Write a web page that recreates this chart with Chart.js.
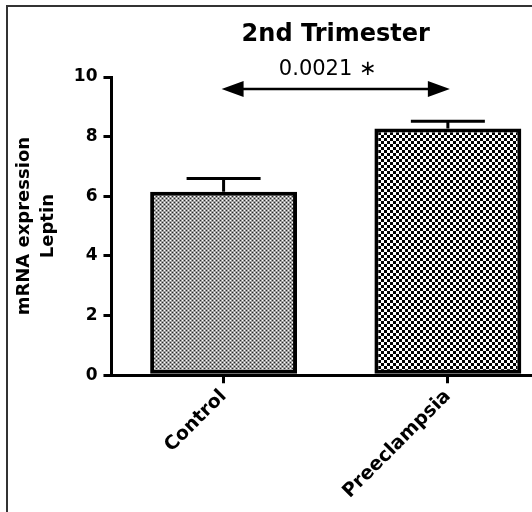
<!DOCTYPE html>
<html>
<head>
<meta charset="utf-8">
<script src="https://cdn.jsdelivr.net/npm/chart.js@4.4.0/dist/chart.umd.min.js"></script>
<style>
html, body { margin: 0; padding: 0; background: #fff; overflow: hidden; }
#wrap { position: relative; width: 532px; height: 512px; overflow: hidden; }
#frame { position: absolute; left: 6px; top: 5px; width: 600px; height: 600px;
         border-left: 2px solid #333; border-top: 2px solid #333; pointer-events: none; }
#chart { position: absolute; left: 0; top: 0; }
</style>
</head>
<body>
<div id="wrap">
  <canvas id="chart" width="575" height="512"></canvas>
  <div id="frame"></div>
</div>
<script>
// datos de la grafica
const categories = ['Control', 'Preeclampsia'];
const meanValues = [6.15, 8.27];
const semValues = [0.45, 0.25];
const yTicks = [0, 2, 4, 6, 8, 10];
const chartTitle = '2nd Trimester';
const yTitle = ['mRNA expression', 'Leptin'];
const pLabel = '0.0021 \u2217';
const bracketValue = 9.6;

const FONT = '"DejaVu Sans", sans-serif';

// patrones de relleno (estilo Prism)
function makePattern(size, draw) {
    const c = document.createElement('canvas');
    c.width = size;
    c.height = size;
    draw(c.getContext('2d'));
    return c.getContext('2d').createPattern(c, 'repeat');
}

const finePattern = makePattern(4, g => {
    g.fillStyle = '#a0a0a0';
    g.fillRect(0, 0, 4, 4);
    g.fillStyle = '#2a2a2a';
    g.fillRect(0, 0, 1, 1);
    g.fillRect(2, 2, 1, 1);
    g.fillStyle = '#fff';
    g.fillRect(2, 0, 1, 1);
    g.fillRect(0, 2, 1, 1);
});

const checkPattern = makePattern(6, g => {
    g.fillStyle = '#fff';
    g.fillRect(0, 0, 6, 6);
    g.fillStyle = '#000';
    g.fillRect(0, 0, 3, 3);
    g.fillRect(3, 3, 3, 3);
});

// barras de error, flecha y titulo
const extras = {
    id: 'extras',
    afterDatasetsDraw(chart) {
        const ctx = chart.ctx;
        const meta = chart.getDatasetMeta(0);
        const y = chart.scales.y;
        const area = chart.chartArea;
        ctx.save();
        ctx.strokeStyle = '#000';
        ctx.fillStyle = '#000';
        ctx.lineWidth = 3;
        meta.data.forEach((bar, i) => {
            const top = y.getPixelForValue(meanValues[i] + semValues[i]);
            ctx.beginPath();
            ctx.moveTo(bar.x, bar.y);
            ctx.lineTo(bar.x, top);
            ctx.moveTo(bar.x - 37, top);
            ctx.lineTo(bar.x + 37, top);
            ctx.stroke();
        });

        const x0 = meta.data[0].x;
        const x1 = meta.data[1].x;
        const by = y.getPixelForValue(bracketValue);
        ctx.lineWidth = 2.5;
        ctx.beginPath();
        ctx.moveTo(x0 + 10, by);
        ctx.lineTo(x1 - 10, by);
        ctx.stroke();
        ctx.beginPath();
        ctx.moveTo(x0 - 2, by);
        ctx.lineTo(x0 + 20, by - 8);
        ctx.lineTo(x0 + 20, by + 8);
        ctx.closePath();
        ctx.moveTo(x1 + 2, by);
        ctx.lineTo(x1 - 20, by - 8);
        ctx.lineTo(x1 - 20, by + 8);
        ctx.closePath();
        ctx.fill();

        ctx.textAlign = 'center';
        ctx.textBaseline = 'alphabetic';
        ctx.font = '21px ' + FONT;
        ctx.fillText(pLabel, (x0 + x1) / 2 - 8, by - 14);

        ctx.font = 'bold 24px ' + FONT;
        ctx.fillText(chartTitle, (area.left + area.right) / 2, 41);
        ctx.restore();
    }
};

const ctx1 = document.getElementById('chart').getContext('2d');

window.myChart1 = new Chart(ctx1, {
    type: 'bar',
    data: {
        labels: categories,
        datasets: [{
            data: meanValues,
            backgroundColor: [finePattern, checkPattern],
            borderColor: '#000',
            borderWidth: 4,
            borderSkipped: false,
            barPercentage: 0.655,
            categoryPercentage: 1
        }]
    },
    options: {
        responsive: false,
        animation: { duration: 0 },
        devicePixelRatio: 1,
        layout: { padding: { left: 13, top: 77, right: 15, bottom: 7 } },
        plugins: {
            legend: { display: false },
            tooltip: { enabled: false },
            title: { display: false }
        },
        scales: {
            x: {
                offset: true,
                border: { display: true, color: '#000', width: 3 },
                grid: {
                    offset: false,
                    drawOnChartArea: false,
                    drawTicks: true,
                    tickLength: 8,
                    lineWidth: 3,
                    color: '#000'
                },
                ticks: {
                    color: '#000',
                    minRotation: 45,
                    maxRotation: 45,
                    padding: 2,
                    font: { family: FONT, size: 19, weight: 'bold' }
                }
            },
            y: {
                min: 0,
                max: 10,
                afterBuildTicks: axis => { axis.ticks = yTicks.map(v => ({ value: v })); },
                border: { display: true, color: '#000', width: 3 },
                grid: {
                    drawOnChartArea: false,
                    drawTicks: true,
                    tickLength: 8,
                    lineWidth: 3,
                    color: '#000'
                },
                ticks: {
                    color: '#000',
                    padding: 6,
                    font: { family: FONT, size: 17, weight: 'bold' }
                },
                title: {
                    display: true,
                    text: yTitle,
                    color: '#000',
                    padding: { top: 0, bottom: 8 },
                    font: { family: FONT, size: 18, weight: 'bold', lineHeight: 1.3 }
                }
            }
        }
    },
    plugins: [extras]
});
</script>
</body>
</html>
